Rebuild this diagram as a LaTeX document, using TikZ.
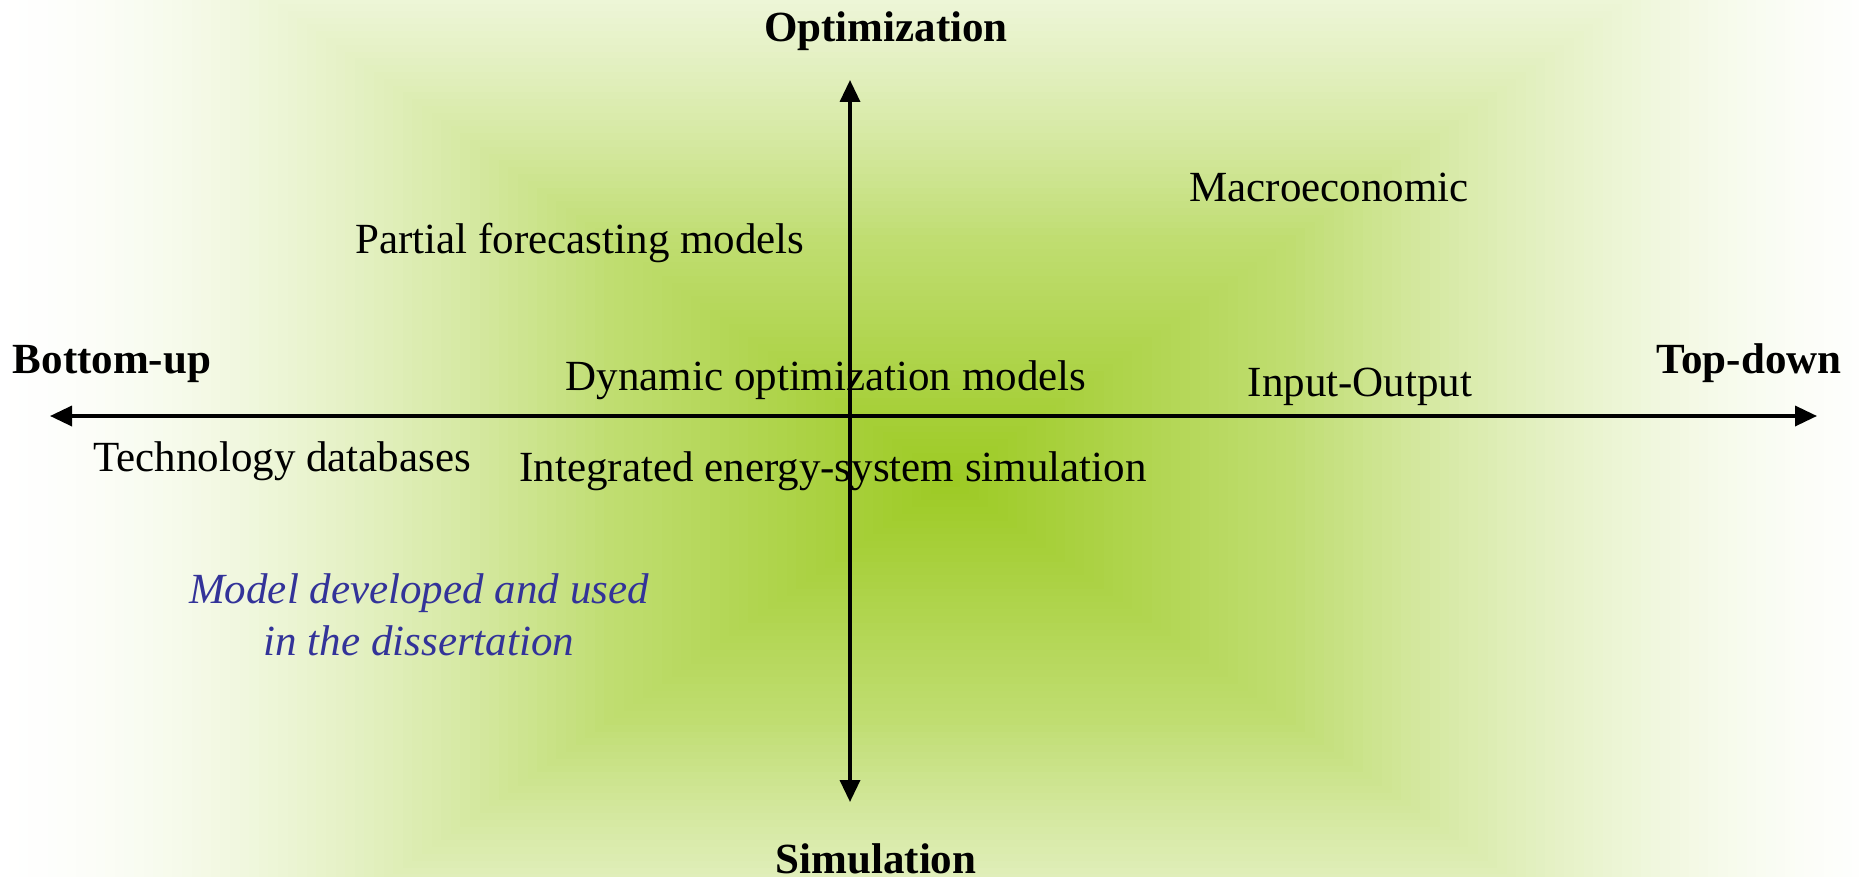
\documentclass[tikz,border=0pt]{standalone}
\usepackage{fontspec}
\setmainfont{Liberation Serif}
\usetikzlibrary{arrows.meta}
\definecolor{gc}{HTML}{9CCA22}
\definecolor{bluetext}{HTML}{333399}
\tikzset{
  lbl/.style={anchor=base, inner sep=0pt, font=\fontsize{43}{52}\selectfont},
  axlbl/.style={anchor=base, inner sep=0pt, font=\fontsize{43}{52}\selectfont\bfseries},
  note/.style={anchor=base, inner sep=0pt, align=center, text=bluetext, font=\fontsize{43}{52}\selectfont\itshape},
  axis/.style={line width=3.5pt, {Triangle[length=22pt,width=20pt]}-{Triangle[length=22pt,width=20pt]}}
}
\begin{document}
\begin{tikzpicture}[x=1pt,y=-1pt]
\useasboundingbox (0,0) rectangle (1859,877);
\begin{scope}
\clip (0,0) rectangle (1859,877);
\fill[white] (0,0) rectangle (1859,877);
\foreach \i in {100,99,...,1}{
  \pgfmathsetmacro\tt{\i/100}
  \pgfmathsetmacro\p{\tt<0.36 ? 100*(1-\tt) : 64*((1-\tt)/0.64)^1.6}
  \fill[gc!\p!white] ({950-9.6*\i},{480-6.8*\i}) rectangle ({950+9.6*\i},{480+6.8*\i});
}
\end{scope}
% axes
\coordinate (T) at (850,80);
\coordinate (B) at (850,802);
\coordinate (L) at (50,416);
\coordinate (R) at (1817,416);
\draw[axis] (L) -- (R);
\draw[axis] (B) -- (T);
% axis labels
\node[axlbl] (opt) at (886,42) {Optimization};
\node[axlbl] (sim) at (876,873) {Simulation};
\node[axlbl] (bu) at (112,373) {Bottom-up};
\node[axlbl] (td) at (1749,373) {Top-down};
% model labels
\node[lbl] (macro) at (1329,202) {Macroeconomic};
\node[lbl] (pfm) at (580,254) {Partial forecasting models};
\node[lbl] (dom) at (826,390) {Dynamic optimization models};
\node[lbl] (io) at (1360,396) {Input-Output};
\node[lbl] (tdb) at (282,471) {Technology databases};
\node[lbl] (ies) at (833,481) {Integrated energy-system simulation};
\node[note] (mdl) at (419,655) {Model developed and used\\in the dissertation};
\end{tikzpicture}
\end{document}
